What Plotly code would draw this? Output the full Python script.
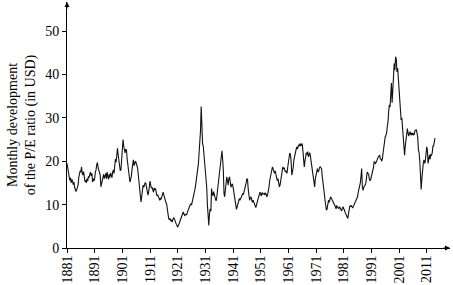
import pandas as pd
import plotly.graph_objects as go

# Quarterly P/E (CAPE) values, 1881 Q1 .. 2014 Q1
pe = [
    19.5, 18.2, 17.0, 16.0,  # 1881
    15.6, 16.2, 15.0, 15.8,
    15.5, 14.6, 15.2, 14.0,
    13.5, 13.0, 13.4, 13.8,
    14.5, 16.2, 17.0, 17.8,
    17.5, 18.7, 17.2, 16.8,
    17.6, 16.5, 15.3, 15.6,
    15.0, 16.0, 15.4, 16.5,
    16.2, 17.0, 17.5, 16.6,
    17.2, 15.2, 16.0, 15.5,
    16.0, 17.5, 18.0, 19.2,  # 1891
    19.7, 18.5, 18.0, 17.2,
    16.8, 14.1, 15.0, 15.8,
    16.5, 17.0, 16.0, 16.8,
    17.2, 16.0, 17.5, 16.5,
    15.8, 17.0, 16.2, 17.3,
    16.8, 16.2, 17.5, 18.0,
    17.2, 19.0, 20.5, 19.8,
    22.0, 23.0, 21.5, 20.0,
    18.5, 17.8, 18.0, 20.5,
    23.0, 25.0, 23.5, 22.0,  # 1901
    21.9, 22.8, 22.6, 20.5,
    19.0, 17.0, 15.8, 15.2,
    15.8, 16.5, 18.0, 19.5,
    20.3, 19.0, 19.8, 20.0,
    19.6, 19.0, 18.5, 17.0,
    15.5, 13.5, 11.5, 10.6,
    11.8, 13.2, 14.5, 14.0,
    14.5, 15.0, 14.9, 14.2,
    13.5, 12.2, 12.8, 14.0,
    15.4, 14.5, 13.8, 14.0,  # 1911
    13.5, 12.9, 13.8, 13.5,
    13.7, 12.5, 12.0, 12.3,
    12.0, 11.5, 11.0, 11.5,
    11.2, 12.0, 12.5, 12.9,
    12.2, 11.5, 11.0, 10.5,
    10.2, 9.0, 7.5, 6.8,
    6.5, 6.8, 6.2, 6.5,
    6.0, 6.5, 7.0, 6.8,
    6.2, 5.8, 5.5, 5.2,
    4.8, 5.2, 5.5, 6.0,  # 1921
    6.5, 7.0, 7.5, 7.8,
    8.3, 7.9, 7.5, 7.7,
    7.8, 7.7, 8.2, 8.8,
    9.2, 9.5, 9.9, 10.2,
    9.9, 10.5, 11.5, 12.0,
    12.6, 13.5, 14.5, 15.5,
    16.5, 18.0, 19.5, 22.0,
    24.5, 27.0, 32.6, 25.6,
    24.0, 23.5, 21.9, 19.0,
    17.5, 16.4, 14.0, 9.9,  # 1931
    7.5, 5.2, 8.0, 9.0,
    8.5, 13.7, 12.5, 12.0,
    13.0, 12.0, 11.5, 11.0,
    11.0, 12.5, 14.5, 16.0,
    17.0, 18.3, 19.5, 21.0,
    22.4, 20.5, 18.0, 12.5,
    11.8, 13.5, 15.8, 16.4,
    15.5, 14.5, 16.0, 16.4,
    15.2, 14.0, 14.5, 14.8,
    14.1, 13.0, 12.5, 11.5,  # 1941
    10.5, 8.9, 9.5, 10.0,
    10.8, 11.4, 11.0, 11.5,
    11.8, 12.2, 12.5, 12.3,
    12.9, 13.5, 14.0, 15.0,
    16.0, 15.8, 13.5, 12.0,
    11.0, 11.5, 11.8, 11.2,
    10.5, 11.0, 10.5, 10.0,
    9.5, 9.3, 10.0, 10.5,
    11.0, 11.8, 12.5, 12.9,
    12.3, 12.0, 12.8, 12.4,  # 1951
    12.5, 12.6, 12.2, 12.6,
    12.4, 11.8, 12.3, 13.0,
    14.0, 15.5, 16.5, 17.5,
    18.0, 18.7, 18.2, 17.2,
    17.2, 17.8, 17.0, 16.0,
    15.5, 16.0, 15.0, 14.1,
    14.5, 15.5, 16.5, 17.5,
    18.7, 18.2, 18.5, 17.9,
    17.5, 17.8, 17.2, 18.5,
    20.0, 21.0, 21.9, 21.5,  # 1961
    20.0, 16.8, 17.5, 18.5,
    20.3, 21.0, 21.5, 22.0,
    23.3, 22.8, 23.5, 23.8,
    23.5, 24.1, 23.5, 24.0,
    24.1, 22.5, 20.0, 18.7,
    20.0, 21.5, 22.0, 21.5,
    22.2, 21.0, 21.4, 22.0,
    21.0, 19.9, 18.5, 18.0,
    17.0, 15.5, 14.1, 16.0,
    17.0, 17.8, 18.3, 17.5,  # 1971
    17.8, 18.5, 18.7, 18.5,
    18.3, 16.5, 15.5, 13.7,
    12.5, 11.0, 9.5, 8.7,
    9.0, 10.5, 11.0, 10.5,
    11.0, 11.8, 11.5, 11.2,
    11.0, 10.5, 10.2, 9.9,
    9.5, 9.0, 9.8, 9.4,
    9.3, 9.1, 9.5, 9.0,
    8.7, 8.5, 9.2, 9.5,
    9.0, 8.8, 8.2, 7.8,  # 1981
    7.4, 7.2, 6.8, 8.0,
    8.8, 9.8, 9.5, 9.8,
    9.5, 9.2, 9.6, 10.0,
    10.0, 10.5, 11.0, 11.3,
    11.8, 12.8, 13.5, 13.8,
    15.0, 16.5, 18.3, 14.0,
    13.3, 14.0, 14.2, 14.5,
    15.0, 16.0, 17.5, 17.2,
    17.0, 16.0, 15.5, 15.8,
    16.5, 17.2, 17.5, 18.5,  # 1991
    19.9, 19.5, 19.5, 19.8,
    20.3, 20.5, 21.0, 21.2,
    21.4, 20.5, 20.5, 20.0,
    20.6, 22.0, 23.5, 24.0,
    25.6, 26.0, 26.5, 28.0,
    29.0, 31.5, 33.0, 32.5,
    36.0, 38.0, 33.5, 36.0,
    40.6, 42.5, 41.0, 44.1,
    43.5, 40.6, 41.5, 39.0,
    36.5, 34.1, 30.3, 29.5,  # 2001
    30.0, 27.9, 23.5, 22.5,
    21.4, 23.5, 25.0, 27.2,
    27.5, 26.5, 25.8, 26.5,
    26.8, 26.0, 26.5, 26.0,
    26.5, 26.0, 26.2, 27.0,
    27.3, 27.3, 26.5, 25.5,
    22.6, 22.0, 20.0, 16.0,
    13.5, 16.0, 18.5, 19.5,
    20.3, 19.5, 20.0, 21.5,
    23.3, 22.5, 19.5, 20.5,  # 2011
    21.5, 20.5, 21.5, 21.4,
    22.0, 23.5, 23.5, 24.5,
    25.3,
]

dates = pd.date_range(start="1881-01-01", periods=len(pe), freq="QS")

tick_years = [1881, 1891, 1901, 1911, 1921, 1931, 1941, 1951, 1961, 1971, 1981, 1991, 2001, 2011]
y_ticks = [0, 10, 20, 30, 40, 50]

FONT = "Liberation Serif, DejaVu Serif, serif"

fig = go.Figure()
fig.add_trace(go.Scatter(
    x=dates, y=pe, mode="lines",
    line=dict(color="#111111", width=1.1),
    hoverinfo="skip", showlegend=False,
))

x_end = "2019-06-01"
y_end = 56.7

fig.update_layout(
    width=453, height=285,
    margin=dict(l=67, r=3, t=2, b=37, autoexpand=False),
    paper_bgcolor="white", plot_bgcolor="white",
    font=dict(family=FONT, size=14, color="black"),
    xaxis=dict(
        range=["1881-01-01", x_end],
        tickvals=[f"{y}-01-01" for y in tick_years],
        ticktext=[str(y) for y in tick_years],
        tickangle=-90,
        ticks="outside", ticklen=4, tickcolor="black", tickwidth=1,
        ticklabelstandoff=-3,
        showline=True, linecolor="black", linewidth=1,
        showgrid=False, zeroline=False,
        tickfont=dict(family=FONT, size=14),
    ),
    yaxis=dict(
        range=[0, y_end],
        tickvals=y_ticks,
        ticks="outside", ticklen=4, tickcolor="black", tickwidth=1,
        showline=True, linecolor="black", linewidth=1,
        showgrid=False, zeroline=False,
        tickfont=dict(family=FONT, size=14),
        title=dict(text="Monthly development<br>of the P/E ratio (in USD)",
                   font=dict(family=FONT, size=14), standoff=6),
    ),
)

# arrowheads on the axes
fig.add_annotation(x=x_end, y=0, xref="x", yref="y", ax=-8, ay=0,
                   text="", showarrow=True, arrowhead=2, arrowsize=1,
                   arrowwidth=1, arrowcolor="black")
fig.add_annotation(x="1881-01-01", y=y_end, xref="x", yref="y", ax=0, ay=8,
                   text="", showarrow=True, arrowhead=2, arrowsize=1,
                   arrowwidth=1, arrowcolor="black")

fig.write_html(
    "out.html",
    config={"displayModeBar": False},
    post_script="document.body.style.margin='0';document.body.style.padding='0';",
)
